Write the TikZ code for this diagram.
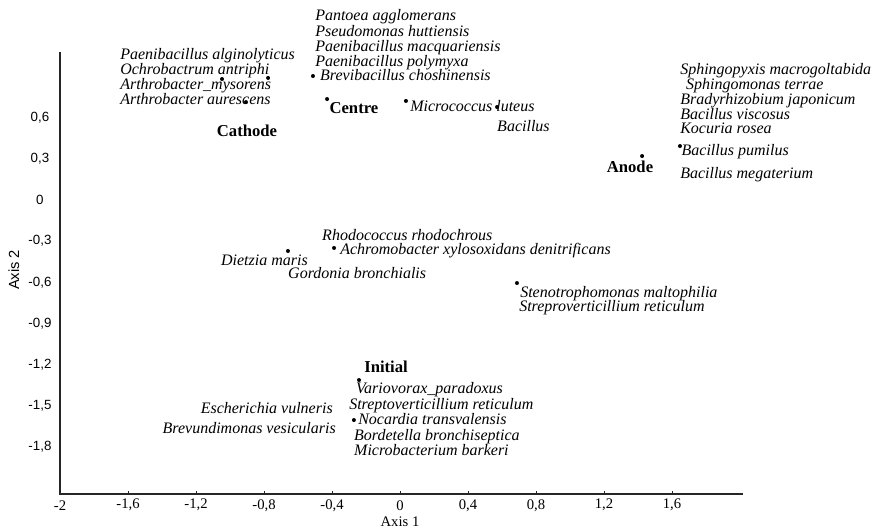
\documentclass[tikz,border=0pt]{standalone}
\usepackage{fontspec}
\setmainfont{Liberation Serif}
\newfontfamily\ticksans{Liberation Sans}

\begin{document}
\begin{tikzpicture}[x=127.5pt, y=102.75pt,
  species/.style={inner sep=0pt, anchor=west, text height=8pt, text depth=2.5pt,
    font=\fontsize{12}{12}\selectfont\itshape},
  group/.style={inner sep=0pt, font=\fontsize{12.5}{13}\selectfont\bfseries},
  obs/.style={circle, fill=black, inner sep=0pt, minimum size=3pt},
  xtick/.style={font=\fontsize{11}{12}\selectfont},
  ytick/.style={font=\fontsize{10}{11}\selectfont\ticksans}]
  \useasboundingbox (-2.3529,-2.4015) rectangle (2.8176,1.4599);
  % Axes
  \coordinate (top) at (-2,1.08);
  \coordinate (orig) at (-2,-2.146);
  \coordinate (right) at (2.018,-2.146);
  \draw[line width=0.9pt, black!85] (top) -- (orig) -- (right);
  % Tick labels
  \foreach \x/\lab [count=\i] in {-2/-2,-1.6/{-1,6},-1.2/{-1,2},-0.8/{-0,8},-0.4/{-0,4},
      0/0,0.4/{0,4},0.8/{0,8},1.2/{1,2},1.6/{1,6}} {
    \draw[black!85] (\x,-2.146) -- ++(0,2.5pt);
    \node[xtick] (xt\i) at (\x,-2.228) {\lab};
  }
  \foreach \y/\lab [count=\i] in {0.6/{0,6},0.3/{0,3},0/0,-0.3/{-0,3},-0.6/{-0,6},
      -0.9/{-0,9},-1.2/{-1,2},-1.5/{-1,5},-1.8/{-1,8}}
    \node[ytick] (yt\i) at (-2.118,\y) {\lab};
  \node[font=\fontsize{11}{12}\selectfont, inner sep=0pt] (axone) at (0,-2.345) {Axis 1};
  \node[font=\fontsize{11}{12}\selectfont\ticksans, rotate=90] (axtwo) at (-2.271,-0.511) {Axis 2};

  % Cathode
  \node[species] (paealg) at (-1.647,1.051) {Paenibacillus alginolyticus};
  \node[species] (ochant) at (-1.647,0.942) {Ochrobactrum antriphi};
  \node[species] (artmys) at (-1.647,0.832) {Arthrobacter\_mysorens};
  \node[species] (artaur) at (-1.647,0.723) {Arthrobacter aurescens};
  \node[obs] (c1) at (-1.047,0.883) {};
  \node[obs] (c2) at (-0.776,0.891) {};
  \node[obs] (c3) at (-0.906,0.715) {};
  \node[group] (cathode) at (-0.900,0.504) {Cathode};

  % Centre
  \node[species] (panagg) at (-0.5,1.336) {Pantoea agglomerans};
  \node[species] (psehut) at (-0.5,1.219) {Pseudomonas huttiensis};
  \node[species] (paemac) at (-0.5,1.109) {Paenibacillus macquariensis};
  \node[species] (paepol) at (-0.5,1.0) {Paenibacillus polymyxa};
  \node[obs] (m1) at (-0.512,0.905) {};
  \node[species] (brecho) at (-0.471,0.898) {Brevibacillus choshinensis};
  \node[obs] (m2) at (-0.429,0.737) {};
  \node[group] (centre) at (-0.271,0.672) {Centre};
  \node[obs] (m3) at (0.035,0.723) {};
  \node[species] (miclut) at (0.059,0.672) {Micrococcus luteus};
  \node[obs] (m4) at (0.571,0.679) {};
  \node[species, anchor=east] (bacill) at (0.882,0.526) {Bacillus};

  % Anode
  \node[species] (sphmac) at (1.647,0.942) {Sphingopyxis macrogoltabida};
  \node[species] (sphter) at (1.682,0.832) {Sphingomonas terrae};
  \node[species] (brajap) at (1.647,0.723) {Bradyrhizobium japonicum};
  \node[species] (bacvis) at (1.647,0.613) {Bacillus viscosus};
  \node[species] (kocros) at (1.647,0.511) {Kocuria rosea};
  \node[obs] (a1) at (1.647,0.394) {};
  \node[species] (bacpum) at (1.655,0.350) {Bacillus pumilus};
  \node[species] (bacmeg) at (1.647,0.182) {Bacillus megaterium};
  \node[obs] (a2) at (1.424,0.321) {};
  \node[group] (anode) at (1.353,0.241) {Anode};

  % Middle
  \node[species] (rhorho) at (-0.459,-0.270) {Rhodococcus rhodochrous};
  \node[obs] (s1) at (-0.388,-0.350) {};
  \node[species] (achxyl) at (-0.353,-0.372) {Achromobacter xylosoxidans denitrificans};
  \node[obs] (s2) at (-0.659,-0.372) {};
  \node[species, anchor=east] (dietzi) at (-0.541,-0.453) {Dietzia maris};
  \node[species] (gorbro) at (-0.659,-0.547) {Gordonia bronchialis};
  \node[obs] (s3) at (0.688,-0.606) {};
  \node[species] (stemal) at (0.706,-0.686) {Stenotrophomonas maltophilia};
  \node[species] (strret) at (0.700,-0.788) {Streproverticillium reticulum};

  % Initial
  \node[group] (initial) at (-0.082,-1.219) {Initial};
  \node[obs] (i1) at (-0.241,-1.314) {};
  \node[species] (varpar) at (-0.259,-1.387) {Variovorax\_paradoxus};
  \node[species] (strret2) at (-0.300,-1.504) {Streptoverticillium reticulum};
  \node[obs] (i2) at (-0.271,-1.606) {};
  \node[species] (noctra) at (-0.247,-1.613) {Nocardia transvalensis};
  \node[species] (borbro) at (-0.271,-1.730) {Bordetella bronchiseptica};
  \node[species] (micbar) at (-0.271,-1.839) {Microbacterium barkeri};
  \node[species, anchor=east] (escvul) at (-0.394,-1.533) {Escherichia vulneris};
  \node[species, anchor=east] (breves) at (-0.376,-1.679) {Brevundimonas vesicularis};
\end{tikzpicture}
\end{document}
